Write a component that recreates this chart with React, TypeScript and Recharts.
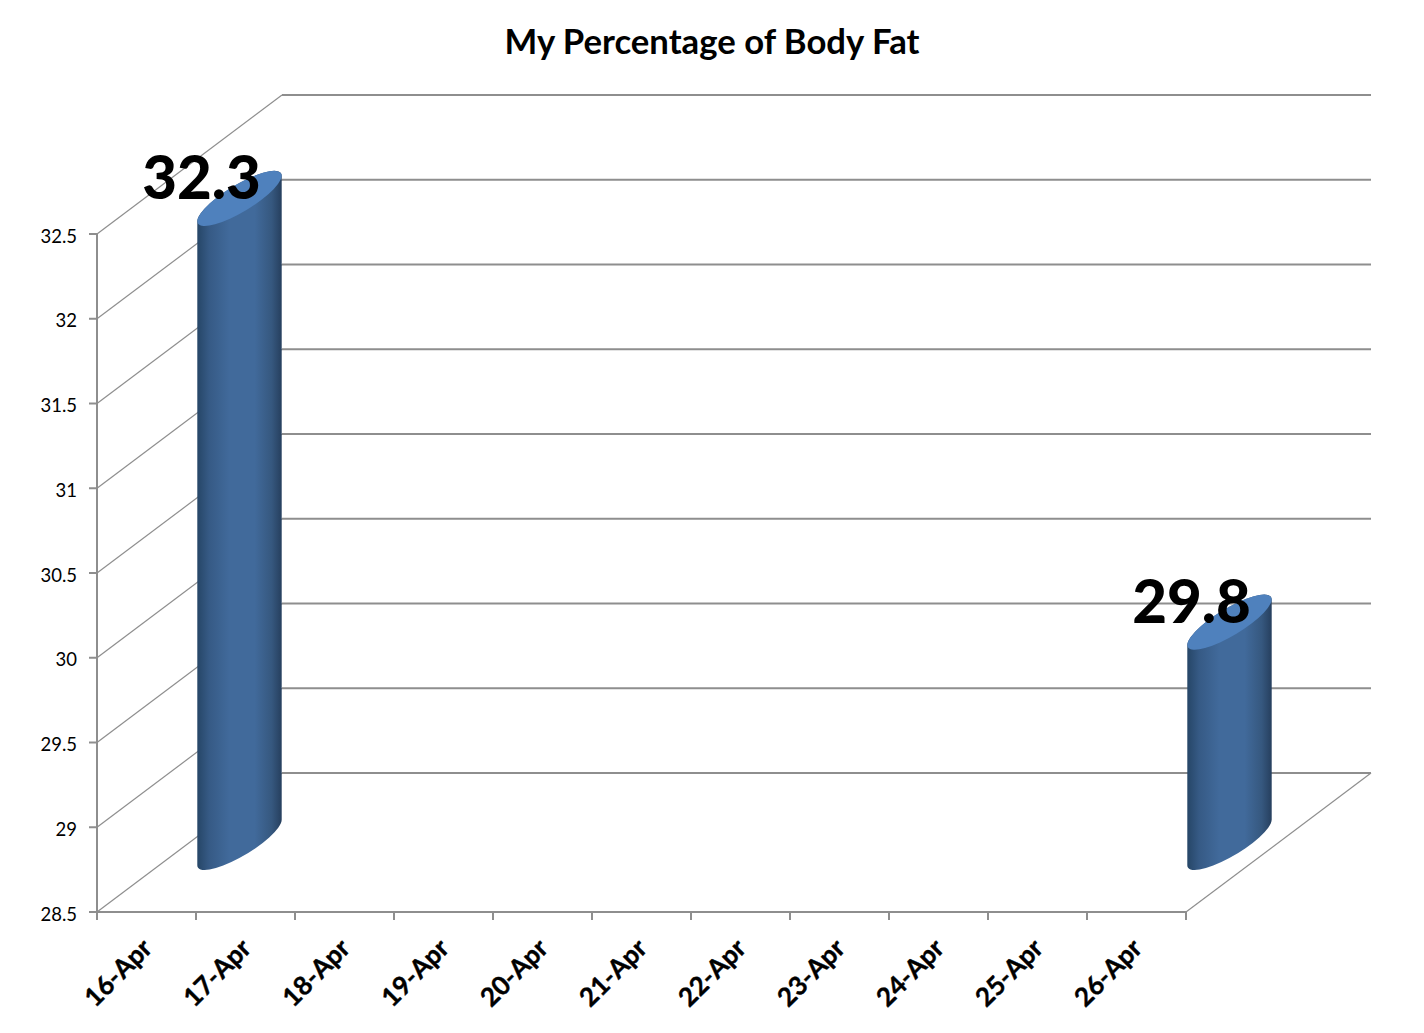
// App.tsx — "My Percentage of Body Fat": faux-3D cylinder column chart, Excel style.
import { Bar, BarChart, ReferenceLine, XAxis, YAxis } from "recharts";

const days = ["16-Apr", "17-Apr", "18-Apr", "19-Apr", "20-Apr", "21-Apr", "22-Apr", "23-Apr", "24-Apr", "25-Apr", "26-Apr"];
const bodyFat = [32.3, null, null, null, null, null, null, null, null, null, 29.8];
const yTicks = [28.5, 29, 29.5, 30, 30.5, 31, 31.5, 32, 32.5];

const data = days.map((day, i) => ({ day, fat: bodyFat[i] }));

const FONT = "Lato, Carlito, sans-serif";
const LINE = "#8e8e8e";
const DX = 185; // depth offset of the back wall
const DY = 139;
const BAND = 99;

// skewed ellipse of the cylinder caps
const RX = 48.5;
const RY = 13.5;
const ROT = -31;
const HALF_W = 42.2;
const TANGENT = 22.7;

function WallLine(props: any) {
  const { x1, y1, x2, isFloor } = props;
  const backY = y1 - DY;
  return (
    <g fill="none" stroke={LINE}>
      <path d={`M${x1},${y1} L${x1 + DX},${backY}`} strokeWidth={1.2} />
      <path d={`M${x1 + DX},${backY} L${x2 + DX},${backY}`} strokeWidth={1.8} />
      {isFloor && <path d={`M${x2},${y1} L${x2 + DX},${backY}`} strokeWidth={1.2} />}
    </g>
  );
}

function Cylinder(props: any) {
  const { x, y, width, height, value } = props;
  if (value == null) return null;
  const cx = x + width / 2 + DX / 2;
  const top = y - DY / 2;
  const bottom = y + height - DY / 2;
  const l = cx - HALF_W;
  const r = cx + HALF_W;
  const body =
    `M${l},${top + TANGENT} L${l},${bottom + TANGENT} ` +
    `A${RX},${RY} ${ROT} 0 0 ${r},${bottom - TANGENT} L${r},${top - TANGENT} ` +
    `A${RX},${RY} ${ROT} 0 0 ${l},${top + TANGENT} Z`;
  return (
    <g>
      <path d={body} fill="url(#cyl)" />
      <ellipse cx={cx} cy={top} rx={RX} ry={RY} transform={`rotate(${ROT} ${cx} ${top})`} fill="#4f81bd" />
    </g>
  );
}

function ValueLabel(props: any) {
  const { x, y, width, value } = props;
  if (value == null) return null;
  return (
    <text
      x={x + width / 2 + 54.5}
      y={y - DY / 2 + 1}
      textAnchor="middle"
      fontFamily={FONT}
      fontWeight={900}
      fontSize={60}
      fill="#000"
    >
      {value}
    </text>
  );
}

function DayTick(props: any) {
  const { x, y, payload, index } = props;
  const left = x - BAND / 2;
  const top = y - 8;
  const ax = x + 7;
  const ay = top + 38;
  return (
    <g>
      <line x1={left} y1={top} x2={left} y2={top + 8} stroke={LINE} strokeWidth={2} />
      {index === days.length - 1 && (
        <line x1={left + BAND} y1={top} x2={left + BAND} y2={top + 8} stroke={LINE} strokeWidth={2} />
      )}
      <text
        x={ax}
        y={ay}
        textAnchor="end"
        transform={`rotate(-45 ${ax} ${ay})`}
        fontFamily={FONT}
        fontWeight={700}
        fontSize={26}
        fill="#000"
        stroke="#000"
        strokeWidth={0.4}
      >
        {payload.value}
      </text>
    </g>
  );
}

export default function App() {
  return (
    <div style={{ position: "absolute", left: 0, top: 0, width: 1424, height: 1033, background: "#fff" }}>
      <BarChart
        width={1424}
        height={1033}
        data={data}
        margin={{ top: 234, right: 238, bottom: 21, left: 37 }}
        barCategoryGap={0}
      >
        <defs>
          <linearGradient id="cyl" x1="0" y1="0" x2="1" y2="0">
            <stop offset="0%" stopColor="#264667" />
            <stop offset="14%" stopColor="#365a85" />
            <stop offset="38%" stopColor="#416a9b" />
            <stop offset="68%" stopColor="#416a9b" />
            <stop offset="88%" stopColor="#36587f" />
            <stop offset="100%" stopColor="#263f5e" />
          </linearGradient>
        </defs>
        <text x={712} y={54} textAnchor="middle" fontFamily={FONT} fontWeight={700} fontSize={34.7} fill="#000">
          My Percentage of Body Fat
        </text>
        {yTicks.map((v) => (
          <ReferenceLine key={v} y={v} zIndex={0} shape={(p: any) => <WallLine {...p} isFloor={v === yTicks[0]} />} />
        ))}
        <XAxis
          dataKey="day"
          interval={0}
          height={100}
          tick={<DayTick />}
          tickLine={false}
          axisLine={{ stroke: LINE, strokeWidth: 2 }}
        />
        <YAxis
          domain={[28.5, 32.5]}
          ticks={yTicks}
          interval={0}
          width={60}
          tickSize={8}
          tickMargin={12}
          tick={{ fontFamily: FONT, fontSize: 18.5, fill: "#000", dy: 2 }}
          tickLine={{ stroke: LINE, strokeWidth: 2 }}
          axisLine={{ stroke: LINE, strokeWidth: 2 }}
        />
        <Bar dataKey="fat" barSize={84} zIndex={500} shape={<Cylinder />} label={<ValueLabel />} isAnimationActive={false} />
      </BarChart>
    </div>
  );
}
